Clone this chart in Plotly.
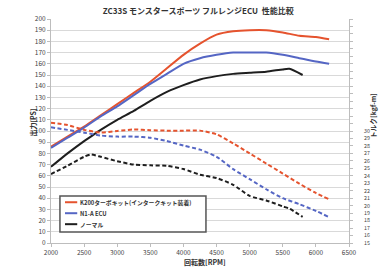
import plotly.graph_objects as go

# ---- data ----
rpm_k200 = [2000, 2250, 2500, 2750, 3000, 3250, 3500, 3750, 4000, 4250, 4500, 4750, 5000, 5250, 5500, 5750, 6000, 6200]
ps_k200 = [86, 95, 104, 114, 124, 134, 144, 156, 168, 178, 186, 189, 190, 190, 188, 185, 184, 182]
tq_k200 = [31.1, 30.8, 30.15, 29.8, 30.0, 30.2, 30.1, 30.05, 30.05, 30.05, 29.55, 28.35, 27.0, 25.65, 24.3, 22.95, 21.7, 20.85]

rpm_n1a = [2000, 2250, 2500, 2750, 3000, 3250, 3500, 3750, 4000, 4250, 4500, 4750, 5000, 5250, 5500, 5750, 6000, 6200]
ps_n1a = [85, 94, 103, 113, 122, 132, 142, 151, 160, 165, 168, 170, 170, 170, 168, 165, 162, 160]
tq_n1a = [30.5, 30.15, 29.78, 29.4, 29.25, 29.25, 29.1, 28.65, 28.05, 27.5, 26.55, 24.9, 23.55, 22.2, 21.0, 20.2, 19.3, 18.45]

rpm_normal = [2000, 2250, 2500, 2600, 2750, 3000, 3250, 3500, 3750, 4000, 4250, 4500, 4750, 5000, 5250, 5500, 5600, 5800]
ps_normal = [68, 80, 91, 95, 101, 110, 118, 127, 135, 141, 146, 149, 151, 152, 153, 155, 155.5, 150]
tq_normal = [24.24, 25.35, 26.55, 26.85, 26.55, 25.95, 25.5, 25.4, 25.35, 24.9, 24.15, 23.7, 22.8, 21.3, 20.7, 19.9, 19.6, 18.5]

names = ["K200ターボキット(インタークキット装着)", "N1-A ECU", "ノーマル"]
colors = ["#E5532E", "#5566C4", "#1E1E1E"]

x_ticks = list(range(2000, 6501, 500))
y_ticks = list(range(0, 201, 10))
y2_ticks = list(range(15, 46, 1))
y2_labels = [str(v) if v <= 30 else "" for v in y2_ticks]

FONT = "Noto Sans CJK JP"

fig = go.Figure()
series = [(rpm_k200, ps_k200, tq_k200), (rpm_n1a, ps_n1a, tq_n1a), (rpm_normal, ps_normal, tq_normal)]
for (r, p, t), nm, c in zip(series, names, colors):
    fig.add_trace(go.Scatter(x=r, y=p, mode="lines", name=nm, showlegend=False,
                             line=dict(color=c, width=2, shape="spline", smoothing=0.6)))
    fig.add_trace(go.Scatter(x=r, y=t, mode="lines", name=nm + " トルク", showlegend=False, yaxis="y2",
                             line=dict(color=c, width=2, dash="4px,2.5px", shape="spline", smoothing=0.6)))

fig.update_layout(
    width=385, height=269,
    margin=dict(l=51, r=36, t=19, b=26, autoexpand=False),
    paper_bgcolor="white", plot_bgcolor="white",
    font=dict(family=FONT, size=6.5, color="#444"),
    title=dict(text="<b>ZC33S モンスタースポーツ フルレンジECU  性能比較</b>",
               x=0.515, xanchor="center", y=0.957, yanchor="middle",
               font=dict(family=FONT, size=8, color="#333")),
    xaxis=dict(range=[2000, 6500], tickvals=x_ticks, showgrid=False,
               showline=True, linecolor="#bdbdbd", linewidth=1,
               ticks="outside", ticklen=3, tickcolor="#bdbdbd",
               tickfont=dict(size=6.5, color="#444"), zeroline=False),
    yaxis=dict(range=[0, 200], tickvals=y_ticks, showgrid=True, gridcolor="#d9d9d9", gridwidth=1,
               showline=True, linecolor="#bdbdbd", linewidth=1,
               ticks="outside", ticklen=3, tickcolor="#bdbdbd",
               tickfont=dict(size=6.5, color="#444"), zeroline=False),
    yaxis2=dict(range=[15, 45], overlaying="y", side="right", tickvals=y2_ticks, ticktext=y2_labels,
                showgrid=False, showline=True, linecolor="#bdbdbd", linewidth=1,
                ticks="outside", ticklen=3, tickcolor="#bdbdbd", ticklabelstandoff=10,
                tickfont=dict(size=5.3, color="#444"), zeroline=False),
)

# axis titles
fig.add_annotation(text="<b>出力[PS]</b>", xref="paper", yref="paper", x=-0.085, y=0.536,
                   textangle=-90, showarrow=False, font=dict(size=7, color="#333"))
fig.add_annotation(text="<b>トルク[kgf-m]</b>", xref="paper", yref="paper", x=1.104, y=0.57,
                   textangle=-90, showarrow=False, font=dict(size=6.8, color="#333"))
fig.add_annotation(text="<b>回転数[RPM]</b>", xref="paper", yref="paper", x=0.517, y=-0.086,
                   yanchor="middle", showarrow=False, font=dict(size=7, color="#333"))

# legend (drawn manually)
fig.add_shape(type="rect", xref="paper", yref="paper", x0=0.030, x1=0.520, y0=0.049, y1=0.210,
              line=dict(color="#555", width=1.5), fillcolor="white", layer="above")
leg_y = [0.182, 0.133, 0.084]
for nm, c, ly in zip(names, colors, leg_y):
    fig.add_shape(type="line", xref="paper", yref="paper", x0=0.047, x1=0.088, y0=ly, y1=ly,
                  line=dict(color=c, width=2), layer="above")
    fig.add_annotation(text="<b>" + nm + "</b>", xref="paper", yref="paper", x=0.092, y=ly,
                       xanchor="left", yanchor="middle", showarrow=False,
                       font=dict(size=5.8, color="#333"))

fig.write_html("out.html", config={"displayModeBar": False},
               post_script="document.body.style.margin='0px';document.body.style.overflow='hidden';")
